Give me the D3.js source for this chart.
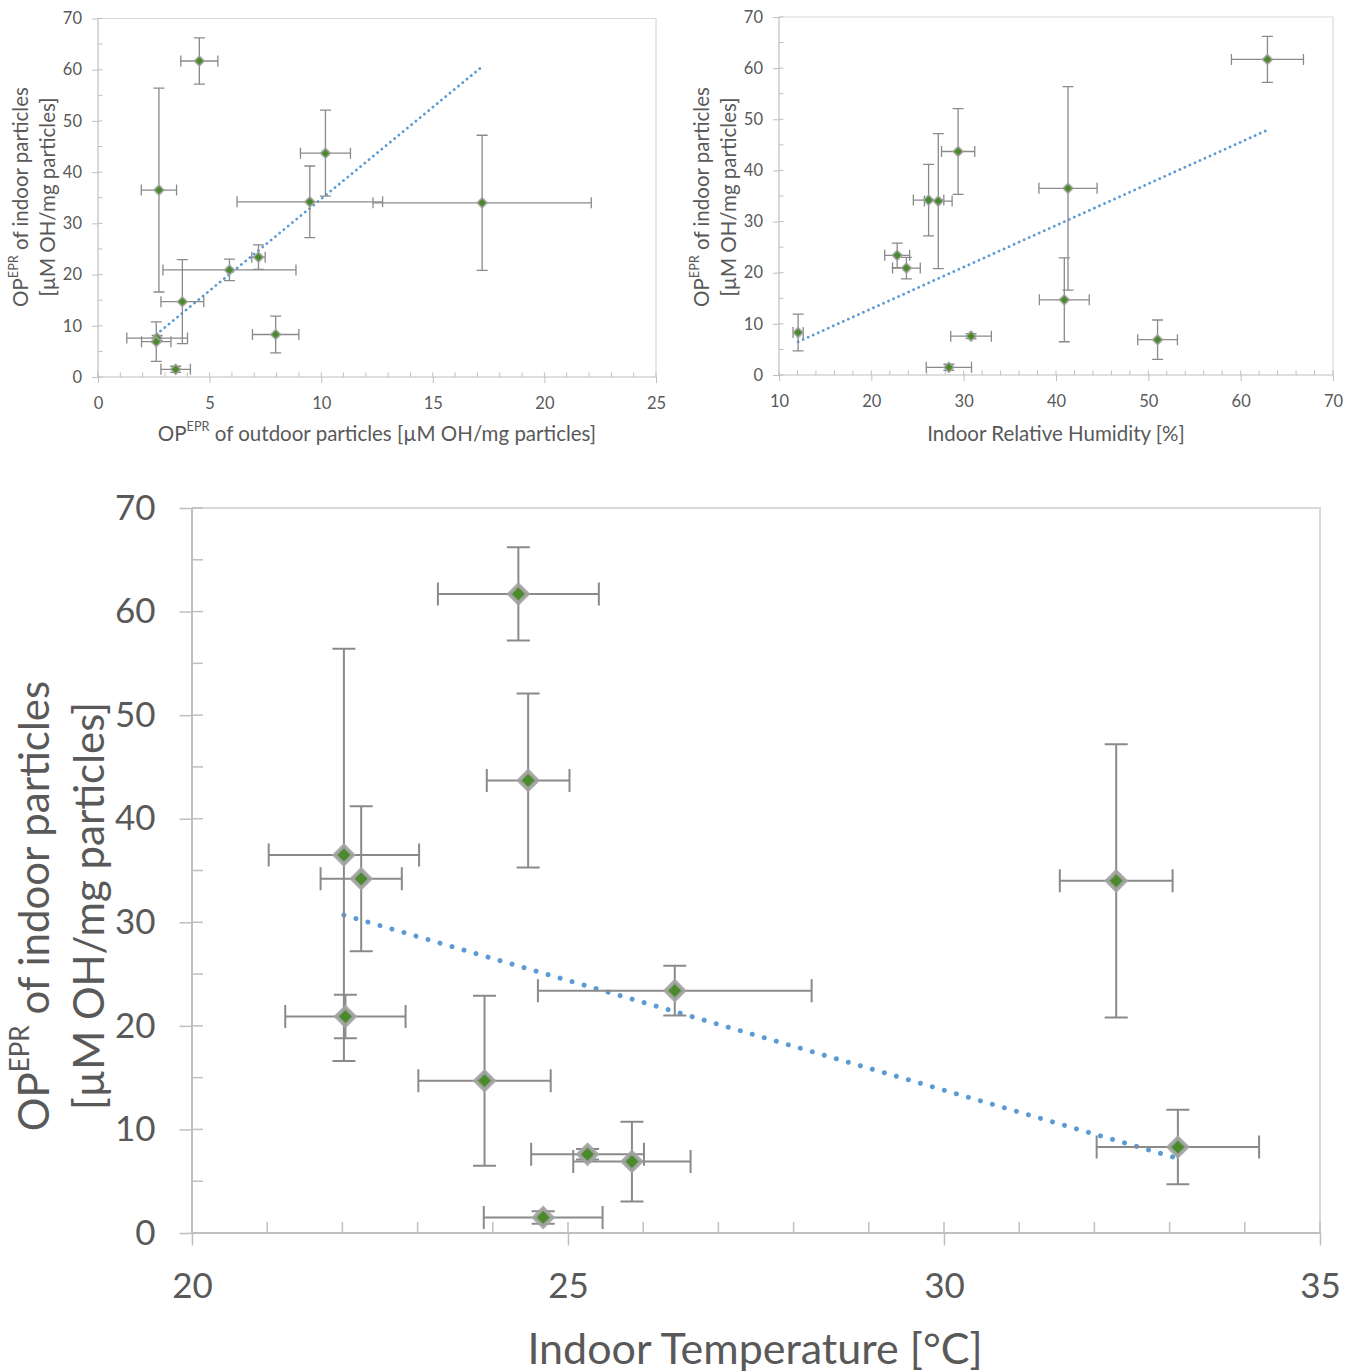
<!DOCTYPE html>
<html>
<head>
<meta charset="utf-8">
<script src="https://cdn.jsdelivr.net/npm/d3@7"></script>
<style>
  html, body { margin: 0; padding: 0; background: #ffffff; }
  svg { display: block; }
  text { font-family: Lato, "Open Sans", "Noto Sans", sans-serif; fill: #595959; }
</style>
</head>
<body>
<svg id="chart" width="1361" height="1372"></svg>
<script>
// Indoor oxidative potential (shared y values of all three panels), one entry per sample
const indoorOP      = [61.7, 36.5, 43.7, 34.2, 34.0, 23.4, 20.9, 14.7, 8.3, 7.6, 6.9, 1.5];
const indoorOPErr   = [4.5, 19.9, 8.4, 7.0, 13.2, 2.4, 2.1, 8.2, 3.6, 0.5, 3.85, 0.6];

// Outdoor oxidative potential (top-left panel)
const outdoorOP     = [4.54, 2.73, 10.19, 9.49, 17.21, 7.19, 5.89, 3.78, 7.96, 2.65, 2.61, 3.48];
const outdoorOPErr  = [0.83, 0.79, 1.12, 3.26, 4.89, 0.3, 2.98, 0.96, 1.04, 1.36, 0.66, 0.66];

// Indoor relative humidity (top-right panel)
const humidity      = [62.9, 41.3, 29.4, 26.2, 27.25, 22.8, 23.8, 40.9, 12.07, 30.8, 51.0, 28.4];
const humidityErr   = [3.9, 3.15, 1.8, 1.65, 1.5, 1.35, 1.5, 2.7, 0.55, 2.2, 2.15, 2.45];

// Indoor temperature (bottom panel)
const temperature    = [24.34, 22.02, 24.47, 22.25, 32.29, 26.42, 22.04, 23.89, 33.11, 25.26, 25.85, 24.67];
const temperatureErr = [1.07, 1.0, 0.55, 0.54, 0.75, 1.82, 0.8, 0.88, 1.08, 0.75, 0.78, 0.79];

// Linear trend lines: [x, y] at both ends
const outdoorTrend     = [[2.61, 8.3], [17.21, 60.6]];
const humidityTrend    = [[12.07, 6.5], [62.9, 47.9]];
const temperatureTrend = [[22.02, 30.7], [33.11, 7.2]];

// Axis ticks
const opTicks   = [0, 10, 20, 30, 40, 50, 60, 70];
const outTicks  = [0, 5, 10, 15, 20, 25];
const rhTicks   = [10, 20, 30, 40, 50, 60, 70];
const tempTicks = [20, 25, 30, 35];

// Axis titles
const yTitleLine1 = ["OP", "EPR", " of indoor particles"];
const yTitleLine2 = "[µM OH/mg particles]";
const outdoorTitle = ["OP", "EPR", " of outdoor particles [µM OH/mg particles]"];
const humidityTitle = "Indoor Relative Humidity [%]";
const temperatureTitle = "Indoor Temperature [°C]";

const svg = d3.select("#chart");

const GREEN = "#4b8a2c";
const MARKER_EDGE = "#a3a3a3";
const BAR = "#8a8a8a";
const AXIS = "#bfbfbf";
const FRAME = "#d9d9d9";
const TREND = "#5b9bd5";

// Write a label that may contain a superscript part: [base, sup, rest] or plain string
function writeLabel(sel, parts, fs) {
  if (typeof parts === "string") { sel.text(parts); return; }
  sel.append("tspan").text(parts[0]);
  sel.append("tspan").attr("font-size", fs * 0.62).attr("dy", -fs * 0.33).text(parts[1]);
  sel.append("tspan").attr("dy", fs * 0.33).text(parts[2]);
}

function drawPanel(p) {
  const g = svg.append("g");
  const x = d3.scaleLinear().domain(p.xDomain).range([p.left, p.right]);
  const y = d3.scaleLinear().domain([0, 70]).range([p.bottom, p.top]);

  // plot area border (top and right)
  g.append("path")
    .attr("d", `M${p.left},${y(70)}H${p.right}V${p.bottom}`)
    .attr("fill", "none").attr("stroke", FRAME).attr("stroke-width", p.axisW);

  // minor ticks (inside) and major ticks (outside)
  const xMinor = d3.range(p.xDomain[0], p.xDomain[1] + 1e-9, p.xMinor);
  const yMinor = d3.range(0, 70 + 1e-9, 5);
  g.append("g").selectAll("line").data(xMinor).join("line")
    .attr("x1", d => x(d)).attr("x2", d => x(d))
    .attr("y1", p.bottom).attr("y2", p.bottom - p.minorLen)
    .attr("stroke", AXIS).attr("stroke-width", p.tickW);
  g.append("g").selectAll("line").data(yMinor).join("line")
    .attr("x1", p.left).attr("x2", p.left + p.minorLen)
    .attr("y1", d => y(d)).attr("y2", d => y(d))
    .attr("stroke", AXIS).attr("stroke-width", p.tickW);

  // axes through d3.axis (major ticks outward)
  const xAxis = g.append("g").attr("transform", `translate(0,${p.bottom})`)
    .call(d3.axisBottom(x).tickValues(p.xTicks).tickSize(p.majorLen).tickPadding(p.xPad).tickFormat(d3.format("d")));
  const yAxis = g.append("g").attr("transform", `translate(${p.left},0)`)
    .call(d3.axisLeft(y).tickValues(opTicks).tickSize(p.majorLen).tickPadding(p.yPad).tickFormat(d3.format("d")));
  [xAxis, yAxis].forEach(a => {
    a.select(".domain").attr("stroke", AXIS).attr("stroke-width", p.axisW);
    a.selectAll(".tick line").attr("stroke", AXIS).attr("stroke-width", p.tickW);
    a.selectAll(".tick text").attr("font-size", p.tickFs).attr("fill", "#595959")
      .attr("font-family", "Lato, 'Open Sans', sans-serif");
  });
  xAxis.select(".domain").attr("d", `M${p.left},0H${p.right}`);
  yAxis.select(".domain").attr("d", `M0,${p.bottom}V${y(70)}`);

  // trend line
  g.append("line")
    .attr("x1", x(p.trend[0][0])).attr("y1", y(p.trend[0][1]))
    .attr("x2", x(p.trend[1][0])).attr("y2", y(p.trend[1][1]))
    .attr("stroke", TREND).attr("stroke-width", p.dotW)
    .attr("stroke-linecap", "round")
    .attr("stroke-dasharray", `0.01 ${p.dotGap}`);

  // error bars
  const pts = p.xs.map((xv, i) => ({ x: xv, ex: p.xe[i], y: indoorOP[i], ey: indoorOPErr[i] }));
  const eb = g.append("g").attr("stroke", BAR).attr("stroke-width", p.barW).attr("fill", "none");
  const c = p.cap / 2;
  pts.forEach(d => {
    const cx = x(d.x), cy = y(d.y);
    const xl = x(d.x - d.ex), xr = x(d.x + d.ex);
    const yt = y(d.y + d.ey), yb = y(d.y - d.ey);
    eb.append("path").attr("d",
      `M${xl},${cy}H${xr}M${xl},${cy - c}V${cy + c}M${xr},${cy - c}V${cy + c}` +
      `M${cx},${yt}V${yb}M${cx - c},${yt}H${cx + c}M${cx - c},${yb}H${cx + c}`);
  });

  // diamond markers
  const sym = d3.symbol(d3.symbolSquare, p.mSide * p.mSide);
  g.append("g").selectAll("path").data(pts).join("path")
    .attr("d", sym)
    .attr("transform", d => `translate(${x(d.x)},${y(d.y)}) rotate(45)`)
    .attr("fill", GREEN)
    .attr("stroke", MARKER_EDGE).attr("stroke-opacity", 0.9)
    .attr("stroke-width", p.mStroke);

  // x axis title
  const xt = g.append("text")
    .attr("x", p.xTitle[0]).attr("y", p.xTitle[1])
    .attr("text-anchor", "middle").attr("dominant-baseline", "central")
    .attr("font-size", p.titleFs);
  writeLabel(xt, p.xTitleText, p.titleFs);

  // y axis title, two lines
  [[yTitleLine1, p.yTitleX[0]], [yTitleLine2, p.yTitleX[1]]].forEach(([txt, tx]) => {
    const t = g.append("text")
      .attr("transform", `translate(${tx},${p.yTitleY}) rotate(-90)`)
      .attr("text-anchor", "middle").attr("dominant-baseline", "central")
      .attr("font-size", p.yTitleFs);
    writeLabel(t, txt, p.yTitleFs);
  });
}

// top-left: outdoor vs indoor OP
drawPanel({
  left: 98, right: 656, top: 18.5, bottom: 377,
  xDomain: [0, 25], xTicks: outTicks, xMinor: 1,
  xs: outdoorOP, xe: outdoorOPErr, trend: outdoorTrend,
  majorLen: 6, minorLen: 4.5, tickW: 1, axisW: 1.2,
  tickFs: 16.5, xPad: 14, yPad: 10,
  barW: 1.3, cap: 11, mSide: 7, mStroke: 1.6,
  dotW: 2.8, dotGap: 5.5,
  titleFs: 20.5, xTitle: [377, 433], xTitleText: outdoorTitle,
  yTitleFs: 20.5, yTitleX: [20, 47], yTitleY: 197
});

// top-right: humidity vs indoor OP
drawPanel({
  left: 779, right: 1333, top: 17, bottom: 375,
  xDomain: [10, 70], xTicks: rhTicks, xMinor: 2,
  xs: humidity, xe: humidityErr, trend: humidityTrend,
  majorLen: 6, minorLen: 4.5, tickW: 1, axisW: 1.2,
  tickFs: 16.5, xPad: 14, yPad: 10,
  barW: 1.3, cap: 11, mSide: 7, mStroke: 1.6,
  dotW: 2.8, dotGap: 5.5,
  titleFs: 20.5, xTitle: [1056, 433], xTitleText: humidityTitle,
  yTitleFs: 20.5, yTitleX: [701, 728], yTitleY: 197
});

// bottom: temperature vs indoor OP
drawPanel({
  left: 192, right: 1320, top: 508, bottom: 1233,
  xDomain: [20, 35], xTicks: tempTicks, xMinor: 1,
  xs: temperature, xe: temperatureErr, trend: temperatureTrend,
  majorLen: 12.5, minorLen: 11, tickW: 1.5, axisW: 2,
  tickFs: 35, xPad: 28, yPad: 24,
  barW: 2, cap: 23, mSide: 13, mStroke: 4,
  dotW: 5, dotGap: 12.5,
  titleFs: 43, xTitle: [755, 1347], xTitleText: temperatureTitle,
  yTitleFs: 42, yTitleX: [33, 88], yTitleY: 906
});
</script>
</body>
</html>
